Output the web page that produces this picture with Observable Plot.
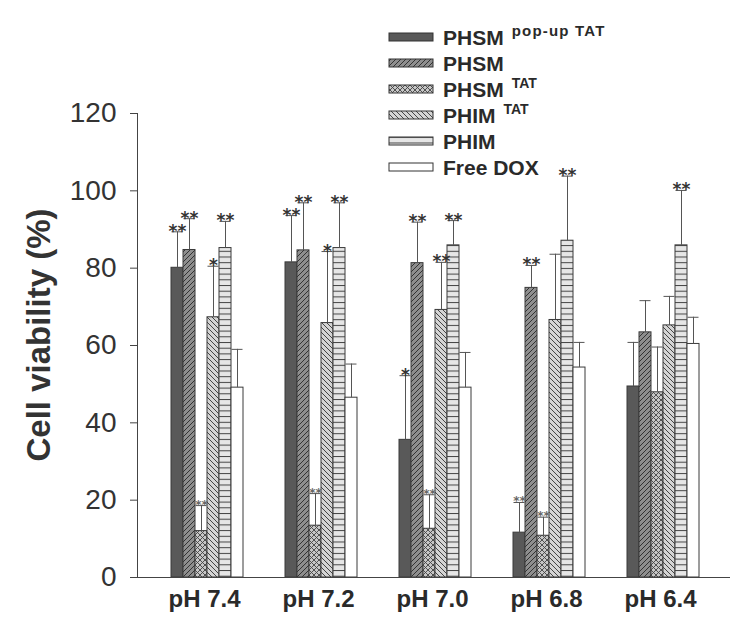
<!DOCTYPE html>
<html><head><meta charset="utf-8">
<script src="https://cdn.jsdelivr.net/npm/d3@7"></script>
<script src="https://cdn.jsdelivr.net/npm/@observablehq/plot@0.6"></script>
<style>body{margin:0;background:#fff;} #chart{width:750px;height:634px;}</style>
</head><body><div id="chart"></div>
<script>
const groups = ["pH 7.4", "pH 7.2", "pH 7.0", "pH 6.8", "pH 6.4"];
const series = ["PHSM pop-up TAT", "PHSM", "PHSM TAT", "PHIM TAT", "PHIM", "Free DOX"];
const legendNames = ["PHSM", "PHSM", "PHSM", "PHIM", "PHIM", "Free DOX"];
const legendSups = ["pop-up TAT", "", "TAT", "TAT", "", ""];
const yTicks = [0, 20, 40, 60, 80, 100, 120];
// mean cell viability (%) per group (rows) and series (columns)
const means = [
  [80.1, 84.7, 12.0, 67.3, 85.2, 49.1],
  [81.5, 84.6, 13.4, 65.8, 85.2, 46.5],
  [35.6, 81.3, 12.6, 69.2, 85.9, 49.1],
  [11.6, 74.9, 10.8, 66.6, 87.1, 54.3],
  [49.4, 63.4, 47.9, 65.2, 85.9, 60.4]
];
// upper error (SD)
const errors = [
  [9.3, 8.1, 6.6, 13.2, 6.9, 9.9],
  [12.1, 12.3, 8.3, 18.5, 11.7, 8.7],
  [16.6, 10.6, 8.8, 12.3, 6.4, 9.1],
  [7.8, 5.8, 4.8, 17.0, 16.7, 6.5],
  [11.4, 8.2, 11.7, 7.5, 14.2, 6.9]
];
const stars = [
  ["**", "**", "**", "*", "**", ""],
  ["**", "**", "**", "*", "**", ""],
  ["*", "**", "**", "**", "**", ""],
  ["**", "**", "**", "", "**", ""],
  ["", "", "", "", "**", ""]
];

const data = groups.flatMap((g, i) => series.map((s, j) => ({
  group: g, series: s, mean: means[i][j], top: means[i][j] + errors[i][j], stars: stars[i][j]
})));
const patternIds = ["p0", "p1", "p2", "p3", "p4", "p5"];

const chart = Plot.plot({
  width: 750, height: 634,
  marginTop: 113, marginBottom: 57, marginLeft: 137, marginRight: 20,
  style: {fontFamily: "'Liberation Sans', Arial, sans-serif", background: "white", color: "#333"},
  fx: {domain: groups, paddingInner: 0, paddingOuter: 0.1, align: 0, label: null},
  x: {domain: series, paddingInner: 0, paddingOuter: 1.44, align: 0.81, axis: null},
  y: {domain: [0, 120], axis: null},
  color: {domain: series, range: patternIds.map(d => `url(#${d})`)},
  marks: [
    Plot.barY(data, {fx: "group", x: "series", y: "mean", fill: "series", stroke: "#3a3a3a", strokeWidth: 1}),
    Plot.ruleX(data, {fx: "group", x: "series", y1: "mean", y2: "top", stroke: "#555"}),
    Plot.tickY(data, {fx: "group", x: "series", y: "top", stroke: "#555", insetLeft: 0.5, insetRight: 0.5}),
    Plot.text(data.filter(d => d.stars && d.top >= 25), {fx: "group", x: "series", y: "top", text: "stars",
      fontSize: 17, fontWeight: "bold", fontFamily: "DejaVu Sans", lineAnchor: "bottom", dy: 5, fill: "#333"}),
    Plot.text(data.filter(d => d.stars && d.top < 25), {fx: "group", x: "series", y: "top", text: "stars",
      fontSize: 12, fontWeight: "bold", fontFamily: "DejaVu Sans", lineAnchor: "bottom", dy: 3, fill: "#666"}),
    Plot.ruleY([0], {stroke: "#444", insetRight: -23}),
    Plot.frame({anchor: "left", facetAnchor: "left", stroke: "#444"}),
    Plot.axisY({ticks: yTicks, tickSize: 7, tickPadding: 14, fontSize: 28, label: null, stroke: "#444", fill: "#333"}),
    Plot.axisFx({anchor: "bottom", tickSize: 0, tickPadding: 12, dx: 10, fontSize: 24, fontWeight: "bold", label: null, fill: "#2a2a2a"})
  ]
});

const svg = d3.select(chart);
const defs = svg.insert("defs", ":first-child");
defs.html(`
  <pattern id="p0" width="4" height="4" patternUnits="userSpaceOnUse"><rect width="4" height="4" fill="#595959"/></pattern>
  <pattern id="p1" width="5" height="5" patternUnits="userSpaceOnUse"><rect width="5" height="5" fill="#8e8e8e"/><path d="M-1,1 l2,-2 M0,5 l5,-5 M4,6 l2,-2" stroke="#333" stroke-width="1"/></pattern>
  <pattern id="p2" width="5" height="5" patternUnits="userSpaceOnUse"><rect width="5" height="5" fill="#c6c6c6"/><path d="M0,0 L5,5 M5,0 L0,5" stroke="#444" stroke-width="0.9"/></pattern>
  <pattern id="p3" width="5" height="5" patternUnits="userSpaceOnUse"><rect width="5" height="5" fill="#d4d4d4"/><path d="M-1,4 l2,2 M0,0 l5,5 M4,-1 l2,2" stroke="#444" stroke-width="1"/></pattern>
  <pattern id="p4" width="6" height="5.7" patternUnits="userSpaceOnUse"><rect width="6" height="5.7" fill="#e6e6e6"/><path d="M0,0.5 H6" stroke="#444" stroke-width="1"/></pattern>
  <pattern id="p5" width="4" height="4" patternUnits="userSpaceOnUse"><rect width="4" height="4" fill="#ffffff"/></pattern>
`);

// y-axis title
svg.append("text")
  .attr("transform", "translate(50,335) rotate(-90)")
  .attr("text-anchor", "middle")
  .attr("font-size", 33).attr("font-weight", "bold")
  .attr("fill", "#333")
  .text("Cell viability (%)");

// legend
const lg = svg.append("g").attr("font-weight", "bold").attr("fill", "#2a2a2a").attr("text-anchor", "start");
series.forEach((s, i) => {
  const cy = 37 + i * 26;
  lg.append("rect").attr("x", 389).attr("y", cy - 4).attr("width", 44).attr("height", 8)
    .attr("fill", `url(#${patternIds[i]})`).attr("stroke", "#333").attr("stroke-width", 1);
  const t = lg.append("text").attr("x", 443).attr("y", cy + 8).attr("font-size", 21);
  t.append("tspan").text(legendNames[i]);
  if (legendSups[i]) {
    t.append("tspan").attr("dx", 8).attr("dy", -9).attr("font-size", i === 0 ? 15 : 14)
      .attr("letter-spacing", i === 0 ? 1.2 : 0).text(legendSups[i]);
  }
});

document.getElementById("chart").appendChild(chart);
</script>
</body></html>
